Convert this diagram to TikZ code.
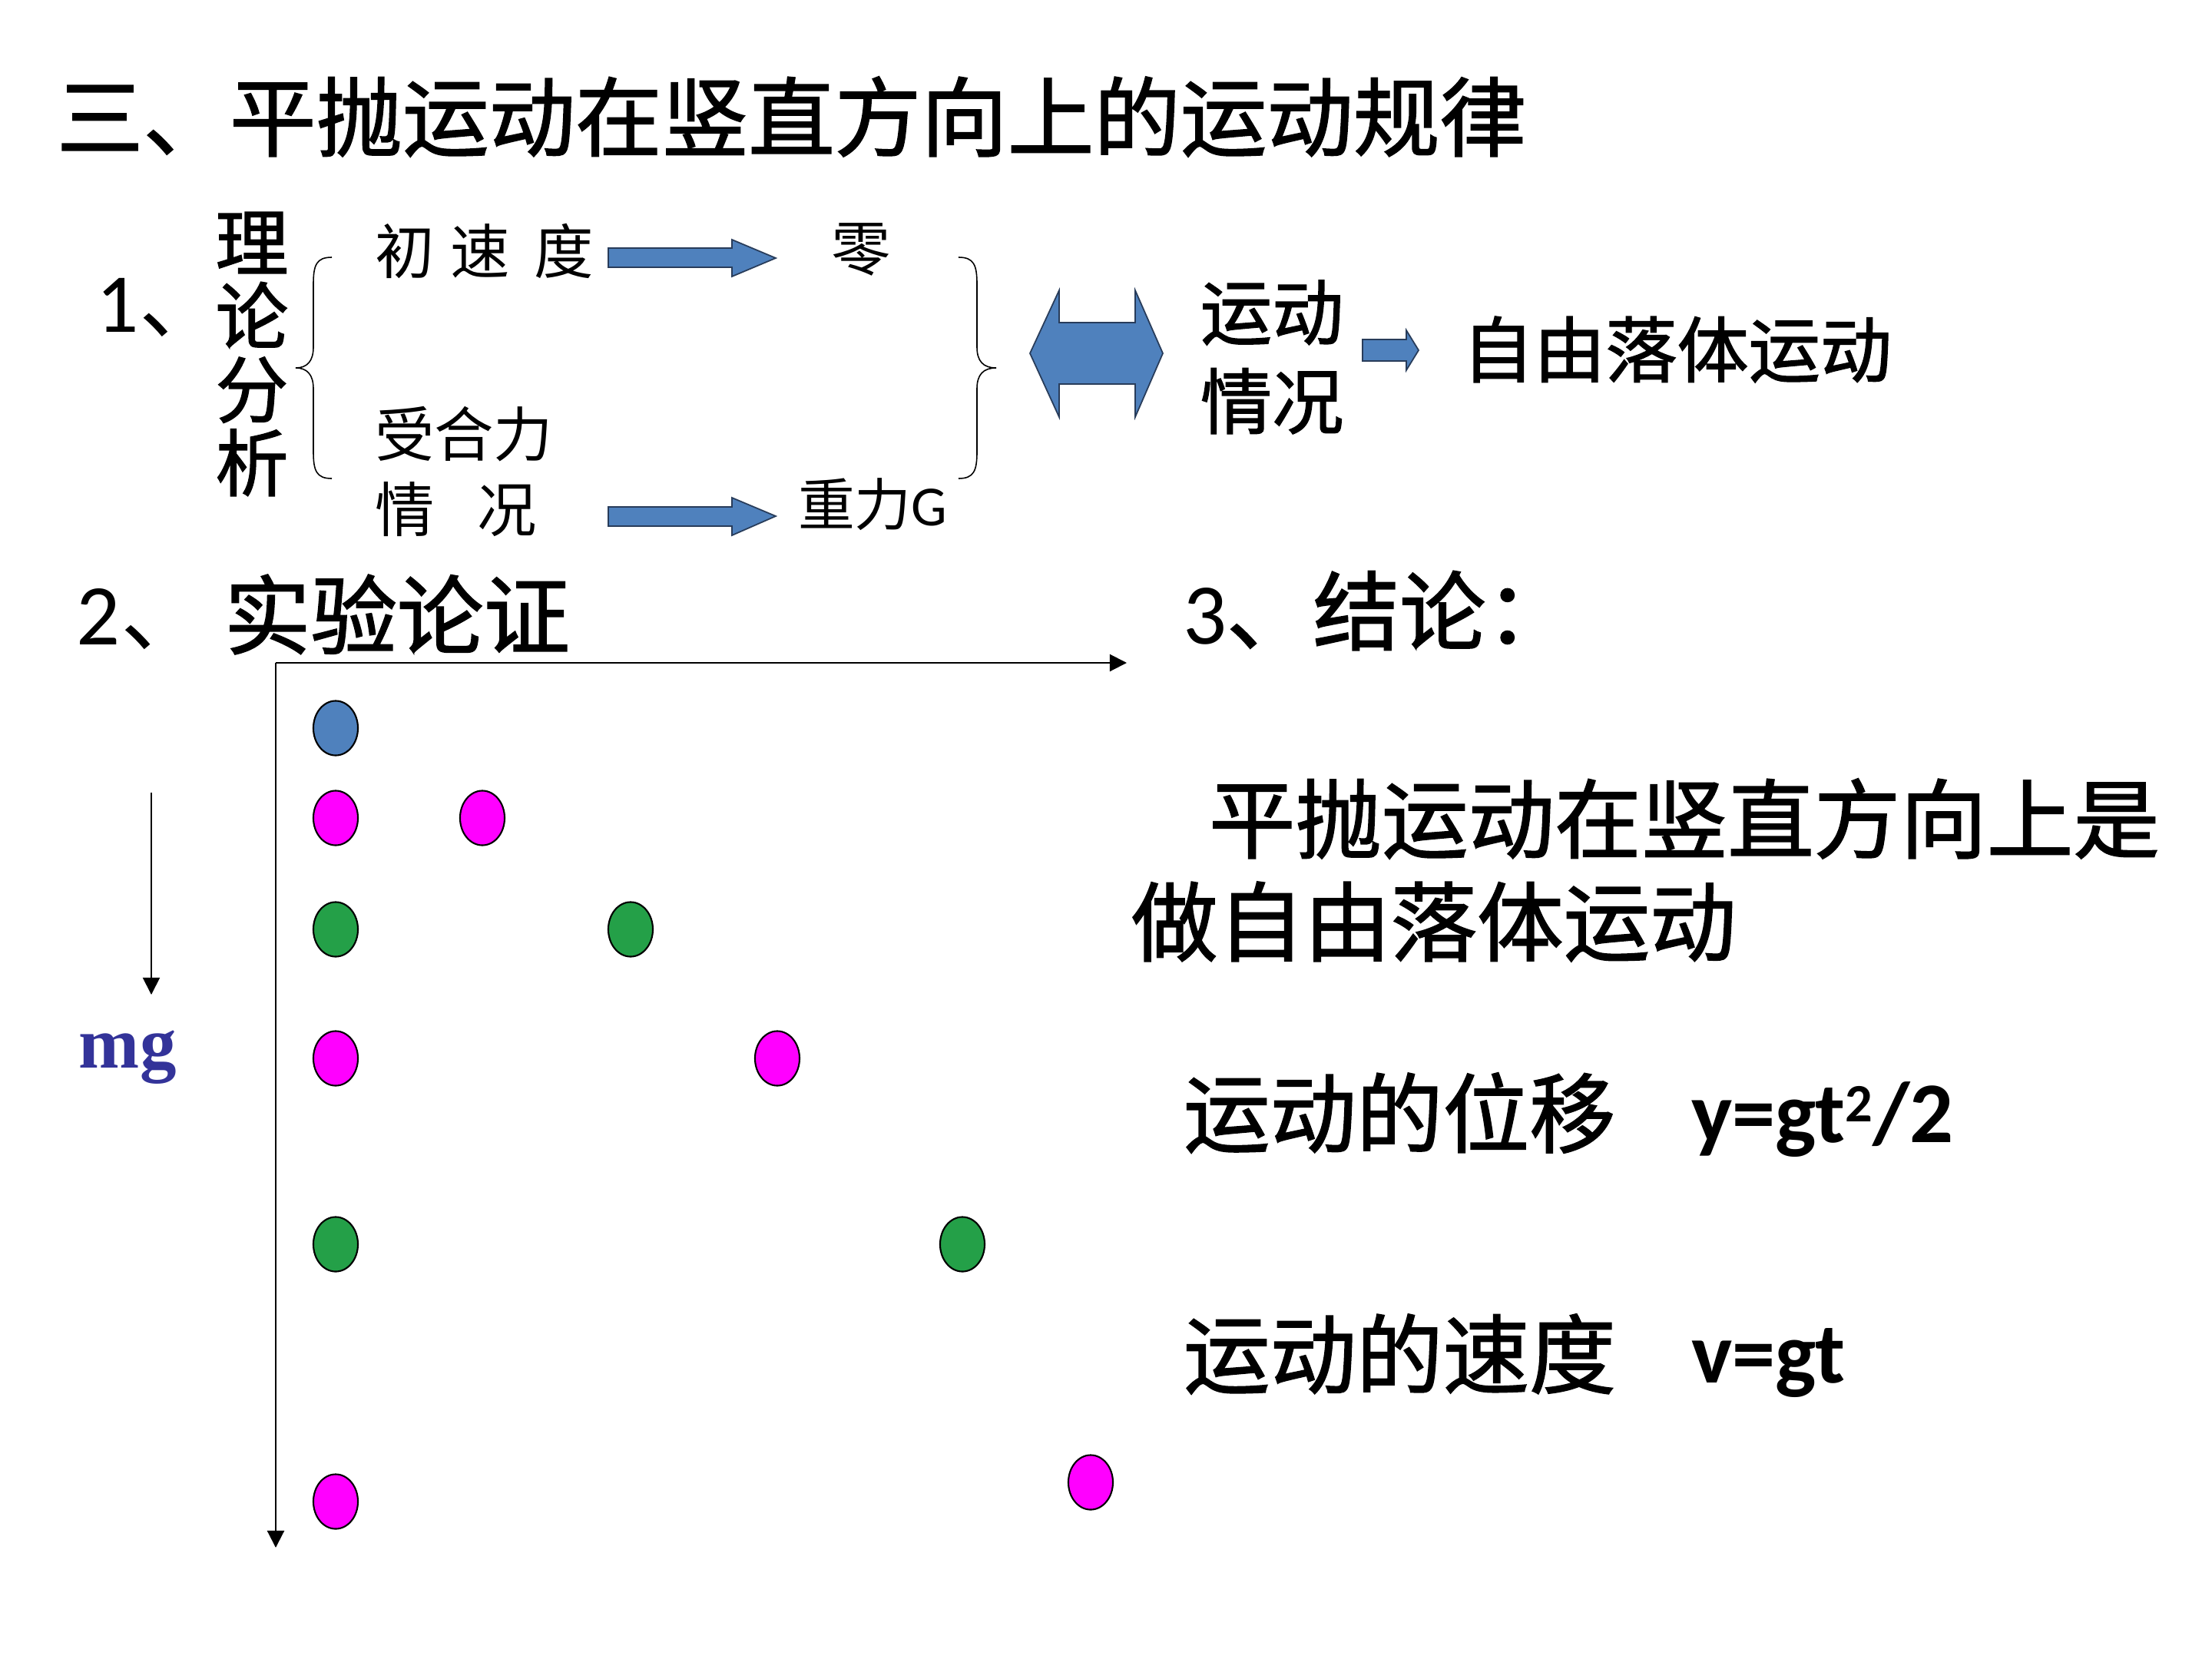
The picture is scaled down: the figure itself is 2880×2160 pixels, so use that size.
\documentclass[tikz,border=0pt]{standalone}
\usepackage{fontspec}
\setmainfont{Carlito}
\newfontfamily\cjk{Noto Sans CJK SC}
\newfontfamily\cjkh[FakeBold=1.5]{Noto Sans CJK SC}
\newfontfamily\tnr{Liberation Serif}
\usetikzlibrary{shapes.geometric,arrows.meta}
\definecolor{blk}{RGB}{79,129,189}
\definecolor{blkline}{RGB}{40,60,90}
\definecolor{mag}{RGB}{255,0,255}
\definecolor{grn}{RGB}{36,160,72}
\definecolor{mgblue}{RGB}{51,51,153}
\newcommand\fsz[1]{\fontsize{#1pt}{#1pt}\selectfont}
\begin{document}
\begin{tikzpicture}[x=0.01cm,y=-0.01cm,
  txt/.style={inner sep=0pt,outer sep=0pt},
  ball/.style={ellipse,draw=black,line width=0.6pt,fill=#1,minimum width=0.58cm,minimum height=0.71cm,inner sep=0pt},
  blockarrow/.style={fill=blk,draw=blkline,line width=0.5pt},
  brc/.style={line width=0.45pt},
  axis/.style={line width=0.6pt,-{Triangle[length=6.3pt,width=6.3pt]}}]
\useasboundingbox (0,0) rectangle (2880,2160);
\fill[white] (0,0) rectangle (2880,2160);

% title
\node[txt,anchor=west] (title) at (74,152) {\cjkh\fsz{32}三、平抛运动在竖直方向上的运动规律};

% part 1
\node[txt,anchor=base west] (n1) at (126,432) {\fsz{31}1{\cjk 、}};
\node[txt,align=center,font={\cjkh\fontsize{27pt}{27.2pt}\selectfont}] (lilun) at (328,461) {理\\论\\分\\析};
\draw[brc] (432,335) .. controls (412,335) and (408,345) .. (408,370) -- (408,452)
  .. controls (408,470) and (400,479) .. (385,479)
  .. controls (400,479) and (408,488) .. (408,506) -- (408,588)
  .. controls (408,613) and (412,623) .. (432,623);
\draw[brc] (1248,335) .. controls (1268,335) and (1272,345) .. (1272,370) -- (1272,452)
  .. controls (1272,470) and (1280,479) .. (1297,479)
  .. controls (1280,479) and (1272,488) .. (1272,506) -- (1272,588)
  .. controls (1272,613) and (1268,623) .. (1248,623);

\node[txt,anchor=west] (csd) at (488,327) {\cjk\fsz{22}初\hspace{6pt}速\hspace{9pt}度};
\node[txt] (ling) at (1121,325) {\cjk\fsz{22}零};
\node[txt,anchor=west] (shl) at (488,565) {\cjk\fsz{22}受合力};
\node[txt,anchor=west] (qk) at (488,663) {\cjk\fsz{22}情\hspace{16pt}况};
\node[txt,anchor=west] (zlg) at (1039,657) {\fsz{21}{\cjk 重力}G};

\filldraw[blockarrow] (792,323) -- (953,323) -- (953,312) -- (1010,336) -- (953,360) -- (953,348) -- (792,348) -- cycle;
\filldraw[blockarrow] (792,660) -- (953,660) -- (953,648) -- (1010,672) -- (953,697) -- (953,685) -- (792,685) -- cycle;
\filldraw[blockarrow] (1341,460) -- (1379,378) -- (1379,420) -- (1478,420) -- (1478,378) -- (1514,460)
  -- (1478,543) -- (1478,500) -- (1379,500) -- (1379,543) -- cycle;
\filldraw[blockarrow] (1774,442) -- (1831,442) -- (1831,430) -- (1847,456) -- (1831,482) -- (1831,470) -- (1774,470) -- cycle;

\node[txt,anchor=west,align=left,font={\cjkh\fontsize{26.5pt}{33pt}\selectfont}] (ydqk) at (1563,465) {运动\\情况};
\node[txt,anchor=west] (zyl) at (1904,455) {\cjkh\fsz{26.5}自由落体运动};

% part 2
\node[txt,anchor=base west] (n2) at (100,839) {\fsz{32}2{\cjk 、}};
\node[txt,anchor=west] (syl) at (292,800) {\cjkh\fsz{32}实验论证};

\coordinate (O) at (359,863);
\coordinate (X) at (1467,863);
\coordinate (Y) at (359,2015);
\draw[axis] (O) -- (X);
\draw[axis] (O) -- (Y);

\coordinate (g0) at (197,1032);
\coordinate (g1) at (197,1295);
\draw[axis,line width=0.5pt] (g0) -- (g1);
\node[txt,anchor=base west,text=mgblue] (mg) at (103,1390) {\tnr\bfseries\fsz{27}mg};

\node[ball=blk] (b0) at (437,948) {};
\node[ball=mag] (a1) at (437,1065) {};
\node[ball=mag] (p1) at (628,1065) {};
\node[ball=grn] (a2) at (437,1210) {};
\node[ball=grn] (p2) at (821,1210) {};
\node[ball=mag] (a3) at (437,1378) {};
\node[ball=mag] (p3) at (1012,1378) {};
\node[ball=grn] (a4) at (437,1620) {};
\node[ball=grn] (p4) at (1253,1620) {};
\node[ball=mag] (a5) at (437,1955) {};
\node[ball=mag] (p5) at (1420,1930) {};

% part 3
\node[txt,anchor=base west] (n3) at (1540,838) {\fsz{32}3{\cjkh 、结论：}};
\node[txt,anchor=west] (c1) at (1574,1066) {\cjkh\fsz{32}平抛运动在竖直方向上是};
\node[txt,anchor=west] (c2) at (1473,1200) {\cjkh\fsz{32}做自由落体运动};
\node[txt,anchor=west] (c3) at (1541,1449) {\cjkh\fsz{32}运动的位移};
\node[txt,anchor=base west] (f1) at (2202,1487) {\bfseries\fsz{32}y=gt\raisebox{7.5pt}{\fsz{20}2}/2};
\node[txt,anchor=west] (c4) at (1541,1763) {\cjkh\fsz{32}运动的速度};
\node[txt,anchor=base west] (f2) at (2202,1800) {\bfseries\fsz{32}v=gt};
\end{tikzpicture}
\end{document}
